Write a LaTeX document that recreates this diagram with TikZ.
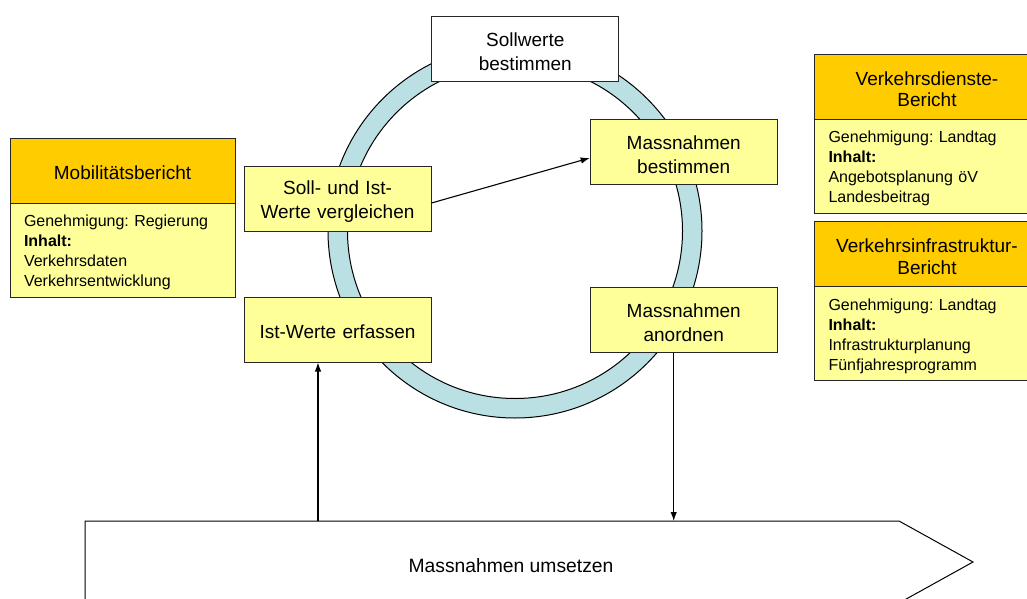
\documentclass[tikz,border=0pt]{standalone}
\usepackage{fontspec}
\setmainfont{Liberation Sans}
\frenchspacing
\usetikzlibrary{positioning,arrows.meta}
\definecolor{kopf}{HTML}{FFCC00}
\definecolor{feld}{HTML}{FFFF99}
\definecolor{ringblau}{RGB}{187,224,227}

\begin{document}
\begin{tikzpicture}[x=1pt, y=-1pt, node distance=0pt,
    kasten/.style={draw=black!85, line width=1pt, fill=feld, text width=187pt,
      minimum height=65pt, align=center, inner sep=0pt, font=\fontsize{19}{24}\selectfont,
      execute at begin node={\rule{0pt}{19pt}}},
    kopfbox/.style={draw=black!85, line width=1pt, fill=kopf, text width=225pt,
      minimum height=65pt, align=center, inner sep=0pt, outer sep=0pt,
      font=\fontsize{19}{21.5}\selectfont, execute at begin node={\rule{0pt}{19pt}}},
    inhalt/.style={draw=black!85, line width=1pt, fill=feld, text width=197pt,
      minimum height=94pt, align=left, inner xsep=14pt, inner ysep=0pt, outer sep=0pt,
      font=\fontsize{16}{20}\selectfont, execute at begin node={\rule{0pt}{16pt}}},
    pfeil/.style={line width=1.1pt, -{Latex[length=9pt,width=6.5pt]}}]
    \clip (0,0) rectangle (1027,599);

    % Regelkreis
    \draw[line width=1pt, fill=ringblau, even odd rule]
        (515,231) circle[radius=187] circle[radius=167.5];

    \node[kasten, fill=white] (soll)  at (525.3,49)  {Sollwerte\\bestimmen};
    \node[kasten] (mbest) at (683.7,152) {Massnahmen\\bestimmen};
    \node[kasten] (vergl) at (337.5,199) {Soll- und Ist-\\Werte vergleichen};
    \node[kasten] (erf)   at (337.5,329.5) {Ist-Werte erfassen};
    \node[kasten] (mano)  at (683.7,320) {Massnahmen\\anordnen};

    % Umsetzung
    \draw[line width=1pt] (85,603) -- (85,521) coordinate (oben)
        -- (899,521) -- (973,562) -- (899,603) -- cycle;
    \node[font=\fontsize{19.3}{23}\selectfont] (umsetzen) at (511,565.5) {Massnahmen umsetzen};

    % Verbindungen
    \coordinate (ano) at ([xshift=-10pt]mano.south);
    \coordinate (erfu) at ([xshift=-19.5pt]erf.south);
    \draw[pfeil] ([yshift=-4pt]vergl.east) -- ([yshift=-6pt]mbest.west);
    \draw[pfeil] (ano) -- (ano |- oben);
    \draw[pfeil] (erfu |- oben) -- (erfu);

    % Berichte
    \node[kopfbox] (mob) at (122.5,170.5) {Mobilitätsbericht};
    \node[inhalt, below=of mob] (mobtxt)
        {Genehmigung: Regierung\\\textbf{Inhalt:}\\Verkehrsdaten\\Verkehrsentwicklung};

    \node[kopfbox] (vdb) at (927,86.7) {Verkehrsdienste-\\Bericht};
    \node[inhalt, below=of vdb] (vdbtxt)
        {Genehmigung: Landtag\\\textbf{Inhalt:}\\Angebotsplanung öV\\Landesbeitrag};

    \node[kopfbox] (vib) at (927,254.2) {Verkehrsinfrastruktur-\\Bericht};
    \node[inhalt, below=of vib] (vibtxt)
        {Genehmigung: Landtag\\\textbf{Inhalt:}\\Infrastrukturplanung\\Fünfjahresprogramm};
\end{tikzpicture}
\end{document}
